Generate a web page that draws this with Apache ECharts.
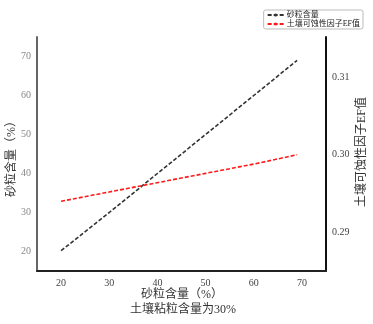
<!DOCTYPE html>
<html><head><meta charset="utf-8">
<script src="https://cdn.jsdelivr.net/npm/echarts@6/dist/echarts.min.js"></script>
<style>html,body{margin:0;padding:0;background:#fff}#c{width:373px;height:324px}</style>
</head><body><div id="c"></div>
<script>
var sandX = [20, 30, 40, 50, 60, 69];
var sandContent = [20.2, 30, 40, 50, 60, 69];
var efValues = [0.2940, 0.2952, 0.2964, 0.2976, 0.2988, 0.3000];
var xTicks = [20, 30, 40, 50, 60, 70];
var leftTicks = [20, 30, 40, 50, 60, 70];
var rightTicks = ['0.29', '0.30', '0.31'];
var seriesNames = ['砂粒含量', '土壤可蚀性因子EF值'];
var xName = '砂粒含量（%）';
var xSubName = '土壤粘粒含量为30%';
var leftName = '砂粒含量（%）';
var rightName = '土壤可蚀性因子EF值';

var FONT = "'Liberation Serif', 'Noto Sans CJK SC', serif";
var chart = echarts.init(document.getElementById('c'));
function pairs(xs, ys){ return xs.map(function(x,i){ return [x, ys[i]]; }); }
function txt(t, x, y, rot){
  return {type: 'text', x: x, y: y, rotation: rot || 0,
    style: {text: t, align: 'center', verticalAlign: 'middle', fontSize: 12, fontFamily: FONT, fill: '#333'}};
}
chart.setOption({
  animation: false,
  textStyle: {fontFamily: FONT},
  grid: {left: 37, right: 47, top: 37, bottom: 53, containLabel: false, outerBoundsMode: 'none'},
  legend: {
    right: 10, top: 10, orient: 'vertical', itemWidth: 16, itemHeight: 4, itemGap: 1,
    padding: [1, 3], borderColor: '#bbb', borderWidth: 1, borderRadius: 2,
    textStyle: {fontSize: 8, fontFamily: FONT, color: '#222', padding: [0,0,0,-2]},
    data: seriesNames
  },
  graphic: [
    txt(xName, 182, 295),
    txt(xSubName, 183, 310),
    txt(leftName, 12, 156, Math.PI / 2),
    txt(rightName, 362, 152, Math.PI / 2)
  ],
  xAxis: {
    type: 'value', min: 15, max: 75, interval: 5,
    axisLine: {lineStyle: {color: '#222', width: 2}},
    axisTick: {show: false}, splitLine: {show: false},
    axisLabel: {fontSize: 10, color: '#444', margin: 7, fontFamily: FONT,
      formatter: function(v){ return xTicks.indexOf(v) >= 0 ? String(v) : ''; }}
  },
  yAxis: [{
    type: 'value', min: 15, max: 75, interval: 5, position: 'left',
    axisLine: {show: true, lineStyle: {color: '#666', width: 2}},
    axisTick: {show: false}, splitLine: {show: false},
    axisLabel: {fontSize: 10, color: '#888', margin: 6, fontFamily: FONT,
      formatter: function(v){ return leftTicks.indexOf(v) >= 0 ? String(v) : ''; }}
  }, {
    type: 'value', min: 0.285, max: 0.3152, interval: 0.005, position: 'right',
    axisLine: {show: true, lineStyle: {color: '#111', width: 2}},
    axisTick: {show: false}, splitLine: {show: false},
    axisLabel: {fontSize: 10, color: '#444', margin: 6, fontFamily: FONT,
      formatter: function(v){ var s = v.toFixed(3); var t = v.toFixed(2); return (s === t + '0' && rightTicks.indexOf(t) >= 0) ? t : ''; }}
  }],
  series: [{
    name: seriesNames[0], type: 'line', yAxisIndex: 0, symbol: 'none',
    data: pairs(sandX, sandContent),
    lineStyle: {color: '#333', width: 1.6, type: [4, 2]}, itemStyle: {color: '#333'}
  }, {
    name: seriesNames[1], type: 'line', yAxisIndex: 1, symbol: 'none',
    data: pairs(sandX, efValues),
    lineStyle: {color: '#ff1a1a', width: 1.6, type: [4, 2]}, itemStyle: {color: '#ff1a1a'}
  }]
});
</script></body></html>
